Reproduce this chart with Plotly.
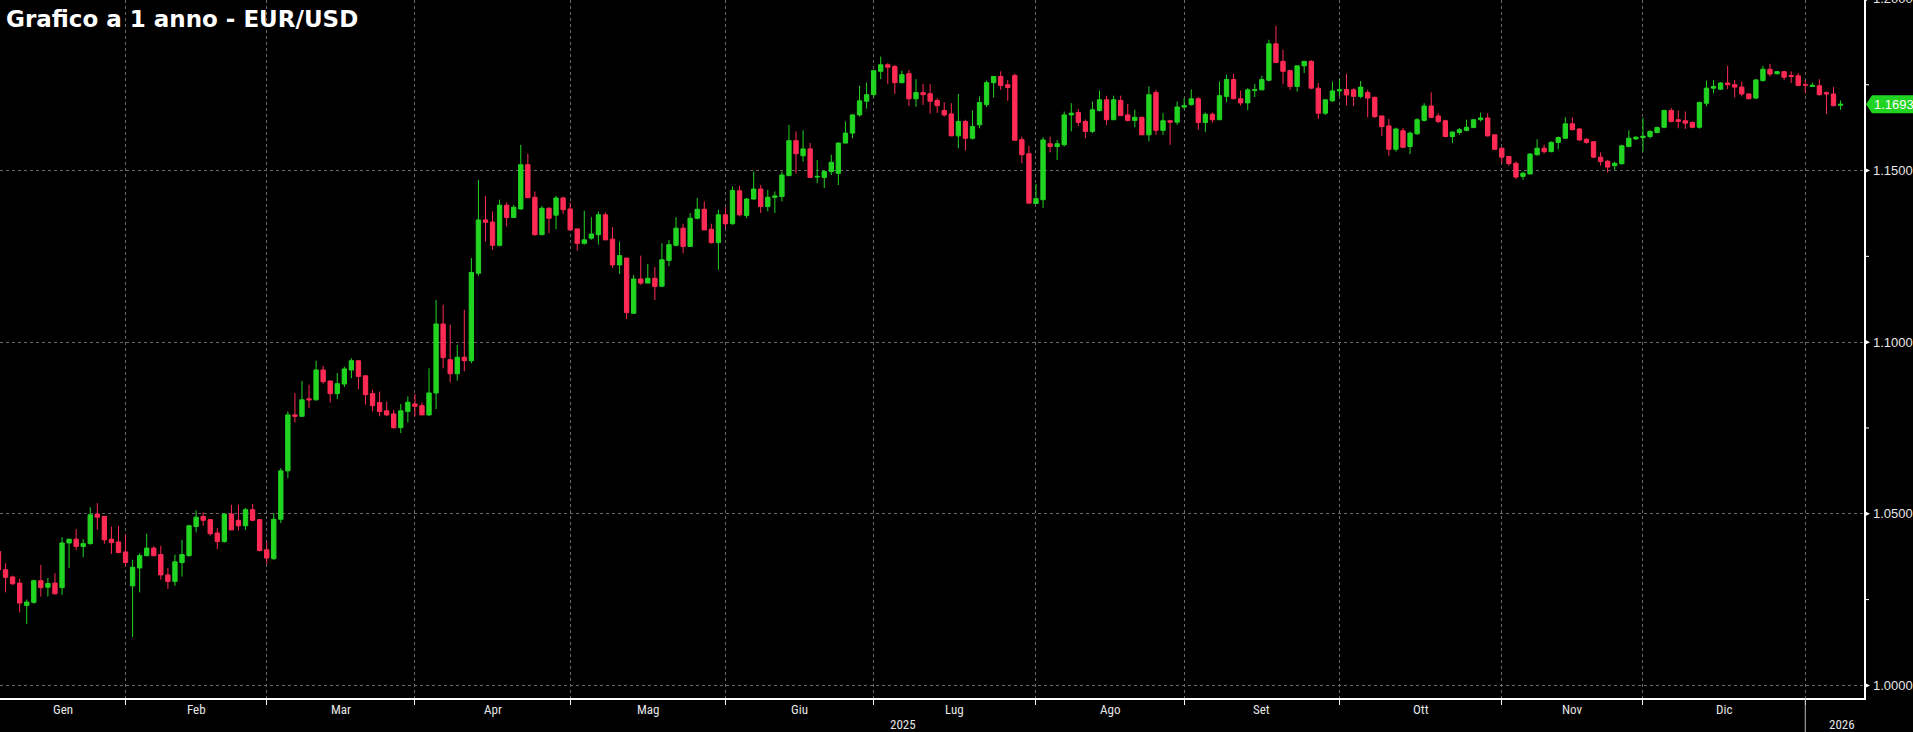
import pandas as pd
import plotly.graph_objects as go

# ---------------- data ----------------
dates = [d.strftime("%Y-%m-%d") for d in pd.bdate_range("2025-01-07", "2026-01-07")]

opens = [
1.0390,1.0337,1.0316,1.0298,1.0233,1.0242,1.0305,1.0286,1.0298,1.0285,
1.0415,1.0426,1.0405,1.0413,1.0499,1.0492,1.0426,1.0418,1.0389,1.0290,
1.0342,1.0378,1.0400,1.0381,1.0322,1.0303,1.0358,1.0378,1.0463,1.0492,
1.0483,1.0444,1.0419,1.0499,1.0481,1.0465,1.0512,1.0483,1.0395,1.0369,
1.0484,1.0625,1.0788,1.0784,1.0835,1.0832,1.0919,1.0887,1.0850,1.0878,
1.0919,1.0946,1.0902,1.0850,1.0824,1.0800,1.0791,1.0751,1.0798,1.0820,
1.0815,1.0788,1.0852,1.1053,1.0949,1.0908,1.0956,1.0946,1.1201,1.1356,
1.1350,1.1282,1.1399,1.1363,1.1388,1.1517,1.1422,1.1313,1.1390,1.1370,
1.1420,1.1388,1.1330,1.1288,1.1303,1.1313,1.1371,1.1300,1.1225,1.1245,
1.1084,1.1184,1.1172,1.1186,1.1163,1.1238,1.1282,1.1332,1.1279,1.1361,
1.1387,1.1329,1.1290,1.1371,1.1345,1.1441,1.1369,1.1417,1.1446,1.1395,
1.1422,1.1424,1.1485,1.1587,1.1543,1.1563,1.1481,1.1480,1.1497,1.1492,
1.1580,1.1609,1.1662,1.1702,1.1721,1.1789,1.1808,1.1803,1.1756,1.1782,
1.1709,1.1727,1.1724,1.1704,1.1675,1.1665,1.1601,1.1643,1.1594,1.1633,
1.1692,1.1756,1.1774,1.1750,1.1777,1.1590,1.1549,1.1404,1.1415,1.1578,
1.1570,1.1575,1.1662,1.1669,1.1643,1.1614,1.1675,1.1706,1.1648,1.1704,
1.1662,1.1646,1.1655,1.1604,1.1727,1.1617,1.1645,1.1641,1.1685,1.1692,
1.1709,1.1640,1.1664,1.1648,1.1716,1.1765,1.1709,1.1697,1.1733,1.1735,
1.1763,1.1869,1.1818,1.1791,1.1745,1.1805,1.1818,1.1740,1.1667,1.1703,
1.1732,1.1736,1.1735,1.1716,1.1727,1.1713,1.1659,1.1630,1.1562,1.1616,
1.1570,1.1607,1.1646,1.1688,1.1659,1.1645,1.1599,1.1611,1.1617,1.1625,
1.1648,1.1653,1.1604,1.1565,1.1541,1.1521,1.1483,1.1490,1.1546,1.1565,
1.1555,1.1582,1.1594,1.1636,1.1621,1.1591,1.1584,1.1539,1.1527,1.1514,
1.1520,1.1570,1.1592,1.1596,1.1599,1.1611,1.1626,1.1675,1.1648,1.1645,
1.1640,1.1626,1.1696,1.1740,1.1737,1.1755,1.1750,1.1743,1.1723,1.1711,
1.1762,1.1795,1.1782,1.1788,1.1777,1.1776,1.1750,1.1745,1.1747,1.1727,
1.1723,1.1690,
]
highs = [
1.0420,1.0356,1.0320,1.0311,1.0250,1.0308,1.0351,1.0313,1.0327,1.0432,
1.0426,1.0455,1.0426,1.0519,1.0531,1.0492,1.0463,1.0465,1.0439,1.0366,
1.0385,1.0442,1.0405,1.0407,1.0342,1.0381,1.0424,1.0468,1.0510,1.0504,
1.0483,1.0458,1.0502,1.0526,1.0526,1.0517,1.0529,1.0483,1.0419,1.0502,
1.0633,1.0798,1.0852,1.0887,1.0876,1.0946,1.0931,1.0887,1.0910,1.0929,
1.0953,1.0946,1.0902,1.0861,1.0856,1.0827,1.0803,1.0820,1.0842,1.0849,
1.0824,1.0924,1.1123,1.1109,1.1051,1.0992,1.1094,1.1245,1.1473,1.1426,
1.1381,1.1415,1.1407,1.1400,1.1575,1.1549,1.1439,1.1397,1.1393,1.1426,
1.1424,1.1407,1.1330,1.1383,1.1364,1.1381,1.1378,1.1335,1.1293,1.1245,
1.1196,1.1252,1.1228,1.1219,1.1288,1.1298,1.1364,1.1345,1.1376,1.1420,
1.1410,1.1345,1.1386,1.1393,1.1454,1.1456,1.1420,1.1497,1.1458,1.1444,
1.1439,1.1497,1.1633,1.1614,1.1617,1.1580,1.1531,1.1500,1.1546,1.1582,
1.1643,1.1664,1.1747,1.1756,1.1793,1.1832,1.1813,1.1808,1.1791,1.1793,
1.1766,1.1752,1.1752,1.1711,1.1699,1.1696,1.1723,1.1648,1.1675,1.1716,
1.1762,1.1774,1.1789,1.1764,1.1782,1.1599,1.1572,1.1461,1.1597,1.1599,
1.1589,1.1672,1.1696,1.1679,1.1649,1.1701,1.1733,1.1718,1.1718,1.1718,
1.1694,1.1677,1.1657,1.1745,1.1735,1.1667,1.1648,1.1701,1.1711,1.1736,
1.1714,1.1669,1.1669,1.1759,1.1779,1.1782,1.1733,1.1740,1.1752,1.1776,
1.1881,1.1922,1.1852,1.1793,1.1805,1.1818,1.1822,1.1755,1.1708,1.1759,
1.1766,1.1782,1.1740,1.1761,1.1735,1.1716,1.1659,1.1650,1.1625,1.1624,
1.1614,1.1653,1.1696,1.1728,1.1667,1.1648,1.1614,1.1624,1.1648,1.1650,
1.1669,1.1667,1.1604,1.1568,1.1543,1.1526,1.1497,1.1551,1.1591,1.1575,
1.1585,1.1599,1.1655,1.1655,1.1624,1.1594,1.1586,1.1553,1.1531,1.1526,
1.1575,1.1617,1.1601,1.1653,1.1617,1.1628,1.1677,1.1682,1.1675,1.1672,
1.1643,1.1701,1.1762,1.1764,1.1757,1.1805,1.1764,1.1759,1.1725,1.1766,
1.1805,1.1811,1.1790,1.1790,1.1789,1.1784,1.1764,1.1756,1.1766,1.1730,
1.1743,1.1704,
]
lows = [
1.0330,1.0271,1.0293,1.0213,1.0179,1.0238,1.0259,1.0259,1.0264,1.0264,
1.0342,1.0395,1.0373,1.0410,1.0453,1.0413,1.0383,1.0385,1.0349,1.0141,
1.0271,1.0376,1.0376,1.0308,1.0281,1.0290,1.0317,1.0375,1.0446,1.0465,
1.0436,1.0397,1.0416,1.0453,1.0451,1.0453,1.0478,1.0390,1.0354,1.0366,
1.0473,1.0604,1.0766,1.0782,1.0808,1.0830,1.0879,1.0824,1.0834,1.0869,
1.0895,1.0863,1.0818,1.0798,1.0784,1.0784,1.0747,1.0735,1.0766,1.0784,
1.0788,1.0785,1.0805,1.0924,1.0883,1.0888,1.0915,1.0939,1.1193,1.1293,
1.1269,1.1279,1.1337,1.1363,1.1386,1.1420,1.1310,1.1313,1.1318,1.1329,
1.1373,1.1327,1.1267,1.1284,1.1298,1.1284,1.1298,1.1216,1.1199,1.1067,
1.1084,1.1167,1.1172,1.1123,1.1160,1.1221,1.1279,1.1259,1.1277,1.1358,
1.1327,1.1287,1.1211,1.1332,1.1342,1.1366,1.1361,1.1415,1.1376,1.1381,
1.1376,1.1410,1.1485,1.1491,1.1526,1.1478,1.1463,1.1449,1.1487,1.1458,
1.1580,1.1594,1.1657,1.1680,1.1714,1.1766,1.1752,1.1723,1.1754,1.1688,
1.1686,1.1691,1.1666,1.1668,1.1657,1.1601,1.1565,1.1558,1.1590,1.1623,
1.1685,1.1713,1.1735,1.1703,1.1588,1.1521,1.1405,1.1404,1.1391,1.1553,
1.1531,1.1570,1.1614,1.1630,1.1594,1.1609,1.1672,1.1633,1.1648,1.1659,
1.1643,1.1626,1.1604,1.1585,1.1604,1.1604,1.1575,1.1633,1.1679,1.1689,
1.1619,1.1612,1.1639,1.1648,1.1699,1.1709,1.1689,1.1676,1.1714,1.1735,
1.1760,1.1815,1.1752,1.1735,1.1730,1.1784,1.1737,1.1650,1.1662,1.1700,
1.1716,1.1690,1.1688,1.1710,1.1655,1.1653,1.1601,1.1543,1.1555,1.1565,
1.1548,1.1604,1.1643,1.1653,1.1638,1.1597,1.1580,1.1604,1.1614,1.1624,
1.1643,1.1599,1.1560,1.1521,1.1514,1.1475,1.1473,1.1490,1.1543,1.1549,
1.1553,1.1562,1.1592,1.1617,1.1587,1.1578,1.1536,1.1514,1.1494,1.1502,
1.1517,1.1568,1.1589,1.1555,1.1594,1.1609,1.1623,1.1640,1.1623,1.1621,
1.1623,1.1622,1.1687,1.1725,1.1735,1.1737,1.1713,1.1716,1.1708,1.1708,
1.1759,1.1774,1.1780,1.1764,1.1755,1.1747,1.1725,1.1743,1.1718,1.1665,
1.1687,1.1677,
]
closes = [
1.0337,1.0315,1.0296,1.0240,1.0243,1.0305,1.0285,1.0297,1.0267,1.0415,
1.0426,1.0405,1.0413,1.0497,1.0490,1.0424,1.0416,1.0387,1.0358,1.0344,
1.0378,1.0400,1.0378,1.0322,1.0303,1.0360,1.0381,1.0465,1.0490,1.0481,
1.0442,1.0419,1.0499,1.0453,1.0465,1.0512,1.0481,1.0393,1.0371,1.0484,
1.0625,1.0788,1.0784,1.0832,1.0832,1.0919,1.0885,1.0850,1.0879,1.0922,
1.0946,1.0900,1.0847,1.0815,1.0798,1.0788,1.0751,1.0800,1.0825,1.0813,
1.0788,1.0852,1.1053,1.0955,1.0908,1.0956,1.0946,1.1203,1.1356,1.1349,
1.1282,1.1399,1.1363,1.1393,1.1517,1.1421,1.1313,1.1390,1.1361,1.1420,
1.1386,1.1327,1.1288,1.1298,1.1315,1.1371,1.1298,1.1225,1.1252,1.1086,
1.1184,1.1172,1.1186,1.1162,1.1240,1.1284,1.1332,1.1279,1.1361,1.1387,
1.1327,1.1290,1.1371,1.1345,1.1442,1.1371,1.1417,1.1446,1.1395,1.1422,
1.1426,1.1487,1.1587,1.1549,1.1563,1.1480,1.1483,1.1497,1.1524,1.1580,
1.1609,1.1662,1.1703,1.1721,1.1791,1.1808,1.1801,1.1756,1.1779,1.1709,
1.1727,1.1721,1.1702,1.1689,1.1662,1.1601,1.1643,1.1594,1.1628,1.1698,
1.1756,1.1774,1.1748,1.1742,1.1588,1.1546,1.1405,1.1418,1.1589,1.1570,
1.1578,1.1662,1.1667,1.1640,1.1614,1.1677,1.1706,1.1648,1.1706,1.1660,
1.1646,1.1655,1.1604,1.1721,1.1617,1.1645,1.1641,1.1685,1.1689,1.1709,
1.1640,1.1664,1.1648,1.1718,1.1765,1.1709,1.1697,1.1735,1.1735,1.1765,
1.1869,1.1815,1.1789,1.1745,1.1805,1.1818,1.1740,1.1667,1.1706,1.1732,
1.1735,1.1720,1.1716,1.1743,1.1711,1.1657,1.1628,1.1562,1.1621,1.1568,
1.1609,1.1648,1.1688,1.1655,1.1643,1.1599,1.1612,1.1619,1.1626,1.1648,
1.1653,1.1601,1.1562,1.1539,1.1520,1.1481,1.1492,1.1548,1.1565,1.1555,
1.1582,1.1596,1.1636,1.1619,1.1589,1.1582,1.1539,1.1526,1.1510,1.1521,
1.1572,1.1594,1.1597,1.1600,1.1614,1.1625,1.1675,1.1643,1.1643,1.1638,
1.1626,1.1698,1.1740,1.1745,1.1755,1.1750,1.1743,1.1723,1.1709,1.1764,
1.1795,1.1781,1.1788,1.1772,1.1774,1.1748,1.1749,1.1748,1.1721,1.1723,
1.1689,1.1693,
]

month_ends = ["2025-01-31", "2025-02-28", "2025-03-31", "2025-04-30", "2025-05-30",
              "2025-06-30", "2025-07-31", "2025-08-29", "2025-09-30", "2025-10-31",
              "2025-11-28", "2025-12-31"]
month_labels = ["Gen", "Feb", "Mar", "Apr", "Mag", "Giu", "Lug", "Ago", "Set", "Ott", "Nov", "Dic"]
y_ticks = [1.00, 1.05, 1.10, 1.15, 1.20]
y_minor = [1.025, 1.075, 1.125, 1.175]
last_price = 1.1693
title = "Grafico a 1 anno - EUR/USD"

# ---------------- styling ----------------
GREEN = "#22D422"
RED = "#FF2B55"
GRID = "#6a6a6a"
W, H = 1913, 732
ML, MR, MT, MB = 0, 49, 0, 34
PW = W - ML - MR
PH = H - MT - MB
X0, X1 = 0.2125, 264.32
Y0, Y1 = 0.99633, 1.19968
AX_FONT = "Liberation Sans Narrow, Arial Narrow, Roboto Condensed, Liberation Sans, sans-serif"
VAL_FONT = "Liberation Sans, Arial, sans-serif"


def ypaper(v):
    return (v - Y0) / (Y1 - Y0)


fig = go.Figure()
fig.add_trace(go.Candlestick(
    x=dates, open=opens, high=highs, low=lows, close=closes,
    increasing=dict(line=dict(color=GREEN, width=1), fillcolor=GREEN),
    decreasing=dict(line=dict(color=RED, width=1), fillcolor=RED),
    showlegend=False, hoverinfo="x+y",
))

idx = {d: i for i, d in enumerate(dates)}
me_idx = [idx[d] for d in month_ends]

bounds = [X0] + me_idx
annotations = []
for k, lab in enumerate(month_labels):
    xm = (bounds[k] + bounds[k + 1]) / 2
    annotations.append(dict(x=xm, xref="x", y=0, yref="paper", yanchor="middle", yshift=-11,
                            text=lab, showarrow=False,
                            font=dict(family=AX_FONT, size=13, color="#e6e6e6")))
annotations.append(dict(x=(X0 + me_idx[-1]) / 2, xref="x", y=0, yref="paper", yanchor="middle",
                        yshift=-26, text="2025", showarrow=False,
                        font=dict(family=AX_FONT, size=13, color="#e6e6e6")))
annotations.append(dict(x=(me_idx[-1] + X1) / 2 + 1, xref="x", y=0, yref="paper", yanchor="middle",
                        yshift=-26, text="2026", showarrow=False,
                        font=dict(family=AX_FONT, size=13, color="#e6e6e6")))
annotations.append(dict(x=0, xref="paper", xanchor="left", xshift=4, y=1, yref="paper",
                        yanchor="middle", yshift=-19, text="<b>%s</b>" % title, showarrow=False,
                        font=dict(family="DejaVu Sans", size=23, color="white")))
for v in y_ticks:
    annotations.append(dict(x=1, xref="paper", xanchor="left", xshift=7, y=ypaper(v), yref="paper",
                            yanchor="middle", text="%.4f" % v, showarrow=False,
                            font=dict(family=VAL_FONT, size=13, color="#e6e6e6")))
annotations.append(dict(x=1, xref="paper", xanchor="left", xshift=8, y=ypaper(last_price), yref="paper",
                        yanchor="middle", text="%.4f" % last_price, showarrow=False,
                        font=dict(family=VAL_FONT, size=13, color="white")))

px_x = 1.0 / PW
px_y = 1.0 / PH
shapes = []
for v in y_ticks:
    yp = ypaper(v)
    shapes.append(dict(type="path", xref="paper", yref="paper",
                       path="M 1,%f L %f,%f L 1,%f Z" % (yp + 3 * px_y, 1 + 6 * px_x, yp, yp - 3 * px_y),
                       fillcolor="white", line=dict(width=0)))
for v in y_minor:
    yp = ypaper(v)
    shapes.append(dict(type="line", xref="paper", yref="paper", x0=1, x1=1 + 5 * px_x, y0=yp, y1=yp,
                       line=dict(color="white", width=1)))
yp = ypaper(last_price)
hb = 9 * px_y
shapes.append(dict(type="path", xref="paper", yref="paper",
                   path="M %f,%f L %f,%f L %f,%f L %f,%f L %f,%f Z" % (
                       1 + 2 * px_x, yp,
                       1 + 8 * px_x, yp + hb,
                       1 + 49 * px_x, yp + hb,
                       1 + 49 * px_x, yp - hb,
                       1 + 8 * px_x, yp - hb),
                   fillcolor=GREEN, line=dict(width=0)))
xs = (me_idx[-1] - X0) / (X1 - X0)
shapes.append(dict(type="line", xref="paper", yref="paper", x0=xs, x1=xs, y0=0, y1=-MB / PH,
                   line=dict(color="#bbbbbb", width=1)))

fig.update_layout(
    width=W, height=H,
    margin=dict(l=ML, r=MR, t=MT, b=MB, pad=0),
    paper_bgcolor="black", plot_bgcolor="black",
    boxgap=0.12,
    annotations=annotations, shapes=shapes,
    xaxis=dict(type="category", range=[X0, X1], rangeslider=dict(visible=False),
               tickvals=month_ends, ticktext=[""] * len(month_ends),
               showgrid=True, gridcolor=GRID, griddash="3px,3px", gridwidth=1,
               ticks="outside", ticklen=5, tickcolor="white",
               showline=True, linecolor="white", linewidth=1.5,
               zeroline=False, fixedrange=True),
    yaxis=dict(side="right", range=[Y0, Y1], tickvals=y_ticks, showticklabels=False,
               showgrid=True, gridcolor=GRID, griddash="3px,3px", gridwidth=1,
               ticks="", showline=True, linecolor="white", linewidth=1.5,
               zeroline=False, fixedrange=True),
    font=dict(family=AX_FONT, color="white"),
)

fig.write_html("out.html")
